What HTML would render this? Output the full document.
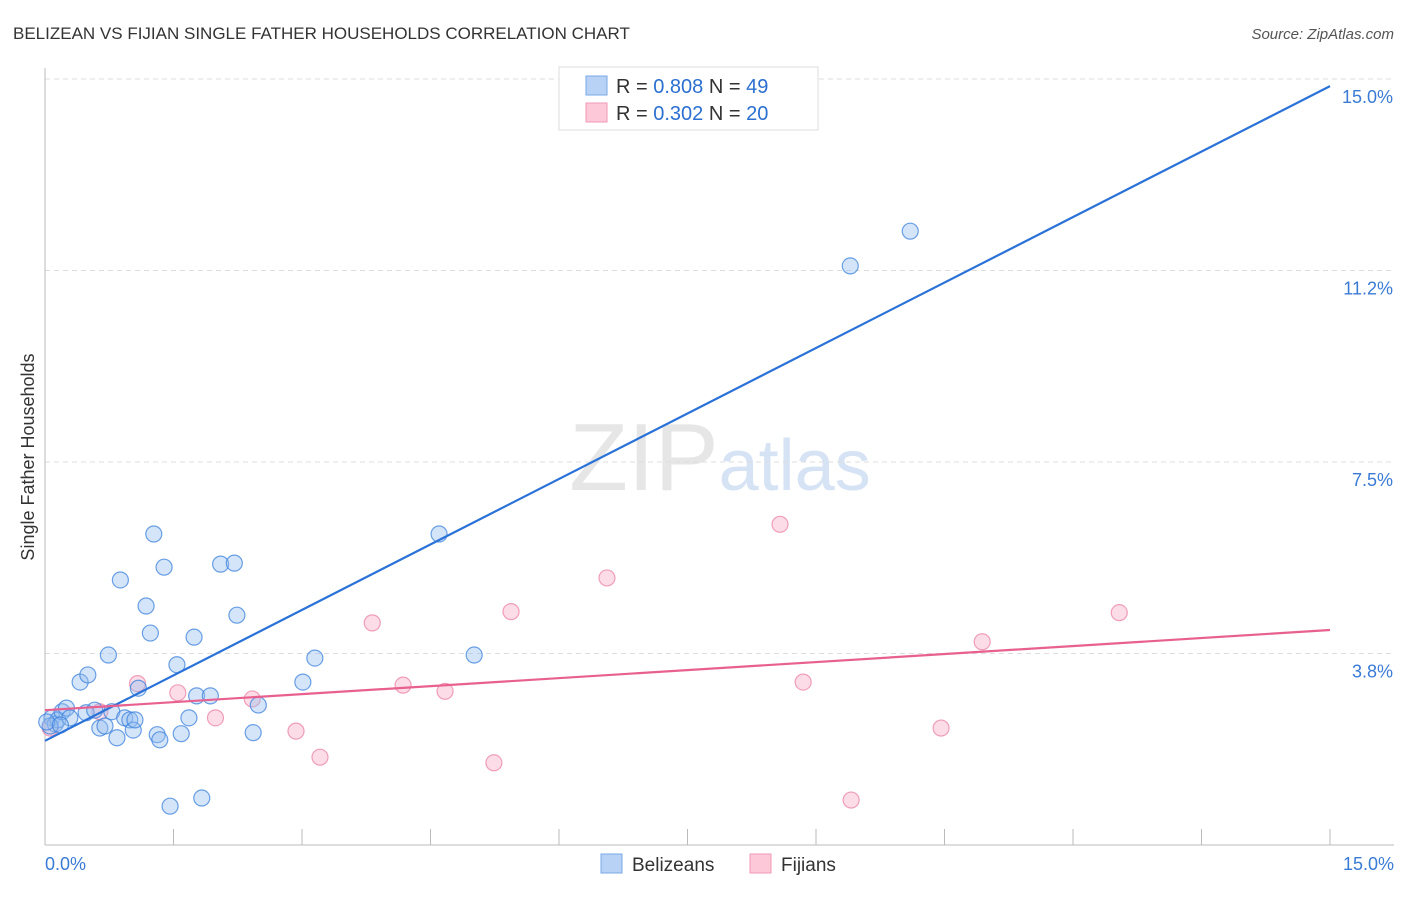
<!DOCTYPE html>
<html><head><meta charset="utf-8">
<style>
body{margin:0;background:#fff;font-family:"Liberation Sans",sans-serif;}
svg text{font-family:"Liberation Sans",sans-serif;}
</style></head>
<body>
<svg id="chart" width="1406" height="892" viewBox="0 0 1406 892" xmlns="http://www.w3.org/2000/svg">
<text x="13" y="39" font-size="17" fill="#333">BELIZEAN VS FIJIAN SINGLE FATHER HOUSEHOLDS CORRELATION CHART</text>
<text x="1394" y="39" font-size="15" fill="#555" text-anchor="end" font-style="italic">Source: ZipAtlas.com</text>
<text x="720" y="490" font-size="96" fill="#e6e6e6" text-anchor="middle" font-family="Liberation Serif">ZIP<tspan fill="#d5e3f5" font-family="Liberation Sans" font-size="72">atlas</tspan></text>
<g id="grid"></g>
<g id="axes"></g>
<g id="marks"></g>
<text transform="translate(34,457) rotate(-90)" font-size="18" fill="#333" text-anchor="middle">Single Father Households</text>
<g>
<rect x="559" y="67" width="259" height="63" fill="#fff" stroke="#ddd"/>
<rect x="586" y="76" width="21" height="19" fill="#b8d2f5" stroke="#7aa8e8"/>
<rect x="586" y="103" width="21" height="19" fill="#fdc8d8" stroke="#f09ab5"/>
<text x="616" y="93" font-size="20" fill="#333">R = <tspan fill="#2b6fd0">0.808</tspan>   N = <tspan fill="#2b6fd0">49</tspan></text>
<text x="616" y="120" font-size="20" fill="#333">R = <tspan fill="#2b6fd0">0.302</tspan>   N = <tspan fill="#2b6fd0">20</tspan></text>
</g>
<g>
<rect x="601" y="854" width="21" height="19" fill="#b8d2f5" stroke="#7aa8e8"/>
<text x="632" y="871" font-size="19" fill="#333">Belizeans</text>
<rect x="750" y="854" width="21" height="19" fill="#fdc8d8" stroke="#f09ab5"/>
<text x="781" y="871" font-size="19" fill="#333">Fijians</text>
</g>
</svg>
<script>
const yTicks=[3.75,7.5,11.25,15];
const yTickLabels=["3.8%","7.5%","11.2%","15.0%"];
const xTickVals=[0,1.5,3,4.5,6,7.5,9,10.5,12,13.5,15];
const belizeanX=[0.08,0.12,0.15,0.2,0.25,0.29,0.41,0.5,0.48,0.58,0.64,0.7,0.74,0.78,0.84,0.88,0.93,0.99,1.03,1.05,1.09,1.18,1.23,1.27,1.31,1.34,1.39,1.46,1.54,1.59,1.68,1.74,1.77,1.83,1.93,2.05,2.21,2.24,2.43,2.49,3.01,3.15,4.6,5.01,9.4,10.1,0.06,0.02,0.18];
const belizeanY=[2.49,2.37,2.45,2.61,2.68,2.49,3.19,3.33,2.59,2.64,2.29,2.33,3.72,2.61,2.1,5.19,2.49,2.45,2.25,2.45,3.07,4.68,4.15,6.09,2.16,2.06,5.44,0.76,3.53,2.18,2.49,4.07,2.92,0.92,2.92,5.5,5.52,4.5,2.2,2.74,3.19,3.66,6.09,3.72,11.34,12.02,2.33,2.41,2.35];
const fijianX=[0.06,0.64,1.08,1.55,1.99,2.42,2.93,3.21,3.82,4.18,4.67,5.24,5.44,6.56,8.58,8.85,9.41,10.46,10.94,12.54];
const fijianY=[2.29,2.61,3.16,2.98,2.49,2.86,2.23,1.72,4.35,3.13,3.01,1.61,4.57,5.23,6.28,3.19,0.88,2.29,3.98,4.55];
const belizeanFit=[2.04,14.86];
const fijianFit=[2.64,4.21];
const NS="http://www.w3.org/2000/svg";
const X0=45,X1=1330,Y0=845,Y1=79;
function sx(v){return X0+(v/15)*(X1-X0);}
function sy(v){return Y0-(v/15)*(Y0-Y1);}
function mk(tag,attrs,parent){const e=document.createElementNS(NS,tag);for(const k in attrs)e.setAttribute(k,attrs[k]);parent.appendChild(e);return e;}
const grid=document.getElementById('grid'),axes=document.getElementById('axes'),marks=document.getElementById('marks');
yTicks.forEach((t,i)=>{
 const l=mk('line',{x1:X0,x2:1394,y1:sy(t),y2:sy(t),stroke:'#ddd','stroke-dasharray':'5,4'},grid);
 
 
 const tx=mk('text',{x:1393,y:sy(t)+24,'font-size':18,fill:'#3a7bd5','text-anchor':'end'},axes);
 tx.textContent=yTickLabels[i];
 
 
});
const ax=mk('line',{x1:X0,x2:X0,y1:68,y2:Y0,stroke:'#bbb'},axes);


const bx=mk('line',{x1:X0,x2:1394,y1:Y0,y2:Y0,stroke:'#bbb'},axes);


xTickVals.forEach(t=>{
 const l=mk('line',{x1:sx(t),x2:sx(t),y1:Y0,y2:Y0-16,stroke:'#bbb'},axes);
 
 
});
const xl0=mk('text',{x:45,y:870,'font-size':18,fill:'#3a7bd5'},axes);xl0.textContent='0.0%';


const xl1=mk('text',{x:1394,y:870,'font-size':18,fill:'#3a7bd5','text-anchor':'end'},axes);xl1.textContent='15.0%';


fijianX.forEach((x,i)=>{
 const c=mk('circle',{cx:sx(x),cy:sy(fijianY[i]),r:8,fill:'rgba(248,170,195,0.4)',stroke:'rgba(235,130,165,0.75)','stroke-width':1.2},marks);
 
 
});
belizeanX.forEach((x,i)=>{
 const c=mk('circle',{cx:sx(x),cy:sy(belizeanY[i]),r:8,fill:'rgba(150,190,240,0.4)',stroke:'rgba(60,130,220,0.75)','stroke-width':1.2},marks);
 
 
});
const lb=mk('line',{x1:sx(0),y1:sy(belizeanFit[0]),x2:sx(15),y2:sy(belizeanFit[1]),stroke:'#2a72d8','stroke-width':2.2},marks);


const lf=mk('line',{x1:sx(0),y1:sy(fijianFit[0]),x2:sx(15),y2:sy(fijianFit[1]),stroke:'#e8608f','stroke-width':2.2},marks);


</script>
</body></html>
